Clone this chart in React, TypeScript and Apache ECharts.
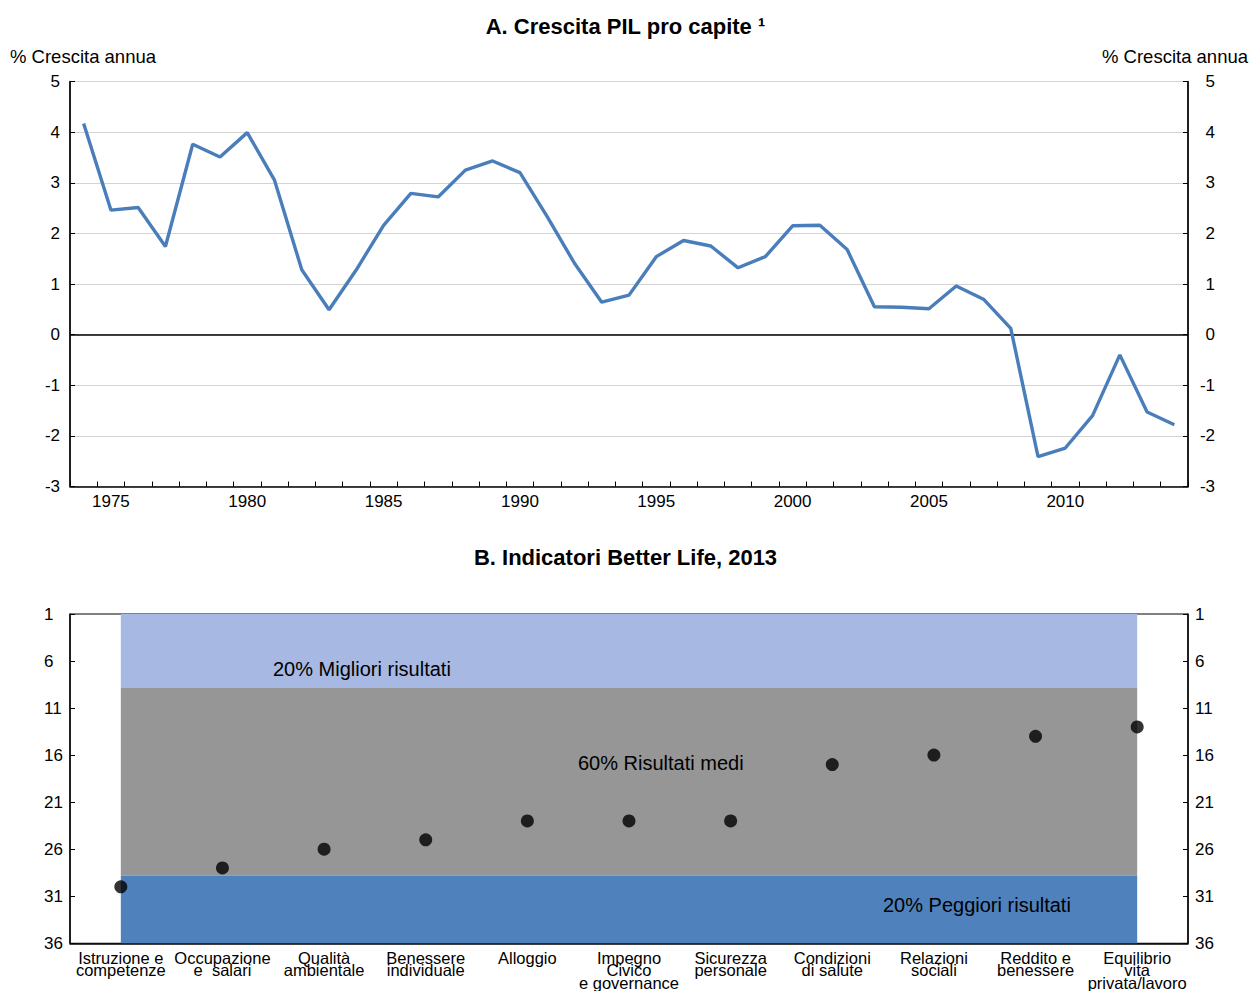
import React, { useEffect, useRef } from "react";
import * as echarts from "echarts";

const years = [
  "1974", "1975", "1976", "1977", "1978", "1979", "1980", "1981", "1982", "1983",
  "1984", "1985", "1986", "1987", "1988", "1989", "1990", "1991", "1992", "1993",
  "1994", "1995", "1996", "1997", "1998", "1999", "2000", "2001", "2002", "2003",
  "2004", "2005", "2006", "2007", "2008", "2009", "2010", "2011", "2012", "2013", "2014",
];
const growth = [
  4.17, 2.46, 2.51, 1.74, 3.76, 3.51, 3.99, 3.05, 1.28, 0.49,
  1.28, 2.16, 2.79, 2.72, 3.25, 3.43, 3.2, 2.33, 1.41, 0.64,
  0.78, 1.54, 1.86, 1.75, 1.32, 1.54, 2.15, 2.16, 1.68, 0.55,
  0.54, 0.51, 0.96, 0.7, 0.125, -2.41, -2.24, -1.6, -0.4, -1.53, -1.78,
];
const growthTicks = { min: -3, max: 5, interval: 1 };

const indicators = [
  "Istruzione e\ncompetenze",
  "Occupazione\ne  salari",
  "Qualità\nambientale",
  "Benessere\nindividuale",
  "Alloggio",
  "Impegno\nCivico\ne governance",
  "Sicurezza\npersonale",
  "Condizioni\ndi salute",
  "Relazioni\nsociali",
  "Reddito e\nbenessere",
  "Equilibrio\nvita\nprivata/lavoro",
];
const ranks = [30, 28, 26, 25, 23, 23, 23, 17, 16, 14, 13];
const rankTicks = { min: 1, max: 36, interval: 5 };
const bands = [
  { name: "20% Migliori risultati", from: 1, to: 8.8 },
  { name: "60% Risultati medi", from: 8.8, to: 28.8 },
  { name: "20% Peggiori risultati", from: 28.8, to: 36 },
];

const FONT = "Liberation Sans, Arial, sans-serif";
const LINE_COLOR = "#4A7EBB";
const BAND_COLORS = ["#A7B8E2", "#969696", "#4F81BD"];

export default function App() {
  const ref = useRef<HTMLDivElement>(null);

  useEffect(() => {
    if (!ref.current) return;
    const chart = echarts.init(ref.current, undefined, { renderer: "svg" });

    const axisTextStyle = { color: "#000", fontSize: 17, fontFamily: FONT };

    const option: any = {
      animation: false,
      backgroundColor: "#fff",
      textStyle: { fontFamily: FONT },
      title: [
        {
          text: "A. Crescita PIL pro capite ¹",
          left: "center",
          top: 10,
          textStyle: { fontSize: 22, fontWeight: "bold", color: "#000", fontFamily: FONT },
        },
        {
          text: "B. Indicatori Better Life, 2013",
          left: "center",
          top: 541,
          textStyle: { fontSize: 22, fontWeight: "bold", color: "#000", fontFamily: FONT },
        },
      ],
      graphic: [
        {
          type: "text",
          left: 10,
          top: 47,
          style: { text: "% Crescita annua", fontSize: 18.5, fontFamily: FONT, fill: "#000" },
        },
        {
          type: "text",
          right: 3,
          top: 47,
          style: { text: "% Crescita annua", fontSize: 18.5, fontFamily: FONT, fill: "#000" },
        },
        {
          type: "text",
          left: 273,
          top: 659,
          z: 20,
          style: { text: bands[0].name, fontSize: 20, fontFamily: FONT, fill: "#000" },
        },
        {
          type: "text",
          left: 578,
          top: 753,
          z: 20,
          style: { text: bands[1].name, fontSize: 20, fontFamily: FONT, fill: "#000" },
        },
        {
          type: "text",
          left: 883,
          top: 895,
          z: 20,
          style: { text: bands[2].name, fontSize: 20, fontFamily: FONT, fill: "#000" },
        },
      ],
      grid: [
        {
          left: 70,
          right: 63,
          top: 81.5,
          height: 405,
          show: true,
          borderColor: "#000",
          borderWidth: 1,
          containLabel: false,
        },
        {
          left: 70,
          right: 63,
          top: 614,
          height: 330,
          show: true,
          borderColor: "#000",
          borderWidth: 1,
          containLabel: false,
        },
      ],
      xAxis: [
        {
          type: "category",
          gridIndex: 0,
          data: years,
          boundaryGap: true,
          axisLine: { onZero: false, lineStyle: { color: "#000", width: 1.5 } },
          axisTick: { show: true, inside: true, length: 5, interval: 0, lineStyle: { color: "#000" } },
          axisLabel: {
            ...axisTextStyle,
            margin: 6,
            interval: (i: number, v: string) => Number(v) % 5 === 0,
          },
          splitLine: { show: false },
        },
        {
          type: "category",
          gridIndex: 1,
          data: indicators,
          boundaryGap: true,
          axisLine: { onZero: false, lineStyle: { color: "#000", width: 1.5 } },
          axisTick: { show: false },
          axisLabel: {
            ...axisTextStyle,
            fontSize: 16.5,
            lineHeight: 12.5,
            margin: 8,
            interval: 0,
          },
          splitLine: { show: false },
        },
      ],
      yAxis: [
        {
          type: "value",
          gridIndex: 0,
          position: "left",
          ...growthTicks,
          axisLine: { show: true, lineStyle: { color: "#000", width: 1.5 } },
          axisTick: { show: true, inside: true, length: 5, lineStyle: { color: "#000" } },
          axisLabel: { ...axisTextStyle, margin: 10 },
          splitLine: { show: true, lineStyle: { color: "#D4D4D4", width: 1 } },
        },
        {
          type: "value",
          gridIndex: 0,
          position: "right",
          ...growthTicks,
          axisLine: { show: true, lineStyle: { color: "#000", width: 1.5 } },
          axisTick: { show: true, inside: true, length: 5, lineStyle: { color: "#000" } },
          axisLabel: { ...axisTextStyle, margin: 27, align: "right" },
          splitLine: { show: false },
        },
        {
          type: "value",
          gridIndex: 1,
          position: "left",
          inverse: true,
          ...rankTicks,
          axisLine: { show: true, lineStyle: { color: "#000", width: 1.5 } },
          axisTick: { show: true, inside: true, length: 5, lineStyle: { color: "#000" } },
          axisLabel: { ...axisTextStyle, margin: 26, align: "left" },
          splitLine: { show: false },
        },
        {
          type: "value",
          gridIndex: 1,
          position: "right",
          inverse: true,
          ...rankTicks,
          axisLine: { show: true, lineStyle: { color: "#000", width: 1.5 } },
          axisTick: { show: true, inside: true, length: 5, lineStyle: { color: "#000" } },
          axisLabel: { ...axisTextStyle, margin: 7, align: "left" },
          splitLine: { show: false },
        },
      ],
      series: [
        {
          type: "line",
          name: "Crescita PIL pro capite",
          xAxisIndex: 0,
          yAxisIndex: 0,
          data: growth,
          symbol: "none",
          lineStyle: { color: LINE_COLOR, width: 3.4 },
          z: 5,
          markLine: {
            silent: true,
            symbol: "none",
            label: { show: false },
            lineStyle: { color: "#000", width: 1.5, type: "solid" },
            data: [{ yAxis: 0 }],
            z: 3,
          },
        },
        {
          type: "scatter",
          name: "bands",
          xAxisIndex: 1,
          yAxisIndex: 2,
          data: [],
          z: 1,
          markArea: {
            silent: true,
            label: { show: false },
            data: bands.map((b, i) => [
              {
                xAxis: indicators[0],
                yAxis: b.from,
                itemStyle: { color: BAND_COLORS[i], opacity: 1 },
              },
              { xAxis: indicators[indicators.length - 1], yAxis: b.to },
            ]),
          },
        },
        {
          type: "scatter",
          name: "Posizione",
          xAxisIndex: 1,
          yAxisIndex: 2,
          data: ranks,
          symbol: "circle",
          symbolSize: 13,
          itemStyle: { color: "#000" },
          z: 10,
        },
      ],
    };

    chart.setOption(option);
    return () => chart.dispose();
  }, []);

  return (
    <div
      ref={ref}
      style={{ position: "absolute", left: 0, top: 0, width: 1251, height: 991 }}
    />
  );
}
